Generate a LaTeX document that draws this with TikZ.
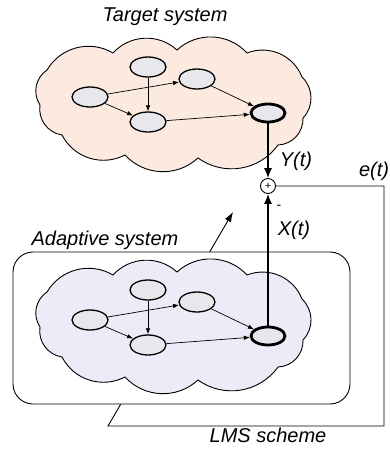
\documentclass[tikz,border=0pt]{standalone}
\usepackage{fontspec}
\setmainfont{Liberation Sans}
\usetikzlibrary{shapes,arrows.meta}
\definecolor{peach}{RGB}{252,234,224}
\definecolor{lilac}{RGB}{236,236,248}
\definecolor{ndgray}{RGB}{231,231,236}
\tikzstyle{nd}=[ellipse,draw=black,line width=1.3pt,fill=ndgray,minimum width=36pt,minimum height=20pt,inner sep=0pt]
\tikzstyle{ndout}=[nd,line width=2.8pt,minimum width=34pt,minimum height=18pt]
\tikzstyle{cldline}=[draw=black,line width=0.9pt]
\tikzstyle{lnk}=[-{Latex[length=6pt,width=4.5pt]},line width=0.7pt]
\tikzstyle{sig}=[-{Latex[length=10pt,width=8pt]},line width=1.2pt]
\tikzstyle{lbl}=[font=\fontsize{20}{24}\selectfont\itshape,inner sep=0pt]
% cusps of the cloud outline
\newcommand{\cusps}{113/53,177/50,247/53,302/77,303/118,278/145,198/158,125/155,62/135,40/105,47/70}

\begin{document}
\begin{tikzpicture}[x=1pt,y=-1pt]
	\useasboundingbox (0,0) rectangle (390,450);
	% target system
	\node[lbl] (ttl) at (165,17) {Target system};
	\draw[cldline,fill=peach] (47,70) \foreach \cx/\cy in \cusps {to[bend left=45] (\cx,\cy)} -- cycle;
	\node[nd] (tA) at (90,97) {};
	\node[nd] (tB) at (148,67) {};
	\node[nd] (tC) at (197,79) {};
	\node[nd] (tD) at (148,122) {};
	\node[ndout] (tE) at (268,113) {};
	\draw[lnk] (tA) -- (tC);
	\draw[lnk] (tA) -- (tD);
	\draw[lnk] (tB) -- (tD);
	\draw[lnk] (tC) -- (tE);
	\draw[lnk] (tD) -- (tE);
	% sum and LMS loop
	\node[circle,draw=black,line width=0.9pt,minimum size=15pt,inner sep=0pt,font=\fontsize{11}{11}\selectfont] (sum) at (268,186) {+};
	\draw[sig] (tE) -- (sum);
	\coordinate (c1) at (384,426);
	\coordinate (c2) at (108,426);
	\coordinate (tip) at (233,212);
	\draw[line width=0.9pt,-{Latex[length=10pt,width=7pt]}] (sum.east) -| (c1) -- (c2) -- (tip);
	\node[lbl] (yt) at (296,161) {Y(t)};
	\node[lbl] (et) at (374,171) {e(t)};
	\node[font=\fontsize{14}{14}\selectfont] (mns) at (279,207) {-};
	% adaptive system
	\node[lbl] (atl) at (105,240) {Adaptive system};
	\node[draw=black,fill=white,line width=0.9pt,rounded corners=20pt,minimum width=337pt,minimum height=152pt,inner sep=0pt] (box) at (181.5,328) {};
	\begin{scope}[yshift=-222pt]
		\draw[cldline,fill=lilac] (47,70) \foreach \cx/\cy in \cusps {to[bend left=45] (\cx,\cy)} -- cycle;
	\end{scope}
	\node[nd] (aA) at (90,320) {};
	\node[nd] (aB) at (148,290) {};
	\node[nd] (aC) at (197,302) {};
	\node[nd] (aD) at (148,345) {};
	\node[ndout] (aE) at (268,336) {};
	\draw[lnk] (aA) -- (aC);
	\draw[lnk] (aA) -- (aD);
	\draw[lnk] (aB) -- (aD);
	\draw[lnk] (aC) -- (aE);
	\draw[lnk] (aD) -- (aE);
	\draw[sig] (aE) -- (sum);
	\node[lbl] (xt) at (294,230) {X(t)};
	\node[lbl] (lms) at (268,435) {LMS scheme};
\end{tikzpicture}
\end{document}
